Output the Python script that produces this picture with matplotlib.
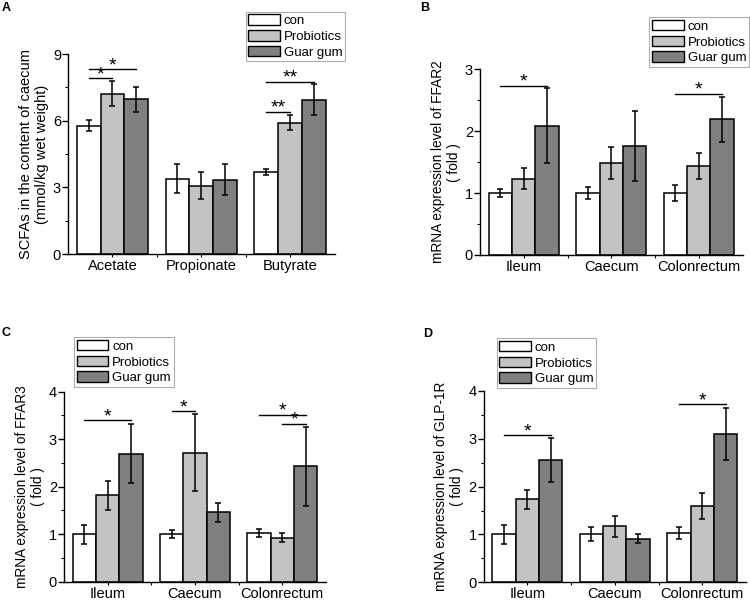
import numpy as np
import matplotlib
matplotlib.use("Agg")
import matplotlib.pyplot as plt
from matplotlib.patches import Patch
from matplotlib.ticker import MultipleLocator

plt.rcParams.update({
    "font.family": ["Liberation Sans", "DejaVu Sans"],
    "font.size": 10,
})

series_names = ["con", "Probiotics", "Guar gum"]
series_colors = ["#FFFFFF", "#C3C3C3", "#808080"]

# panel A
cats_a = ["Acetate", "Propionate", "Butyrate"]
con_a = [5.77, 3.39, 3.70]
con_a_err = [0.25, 0.66, 0.13]
pro_a = [7.22, 3.08, 5.91]
pro_a_err = [0.58, 0.62, 0.35]
gg_a = [6.96, 3.35, 6.95]
gg_a_err = [0.57, 0.68, 0.70]

# panel B
tissues = ["Ileum", "Caecum", "Colonrectum"]
con_b = [1.00, 1.00, 1.00]
con_b_err = [0.07, 0.10, 0.13]
pro_b = [1.23, 1.48, 1.43]
pro_b_err = [0.17, 0.26, 0.21]
gg_b = [2.09, 1.76, 2.19]
gg_b_err = [0.60, 0.57, 0.36]

# panel C
con_c = [1.00, 1.00, 1.03]
con_c_err = [0.20, 0.09, 0.08]
pro_c = [1.82, 2.72, 0.93]
pro_c_err = [0.31, 0.81, 0.10]
gg_c = [2.69, 1.46, 2.43]
gg_c_err = [0.62, 0.20, 0.83]

# panel D
con_d = [1.00, 1.01, 1.03]
con_d_err = [0.19, 0.15, 0.13]
pro_d = [1.74, 1.17, 1.60]
pro_d_err = [0.20, 0.22, 0.27]
gg_d = [2.56, 0.91, 3.10]
gg_d_err = [0.46, 0.09, 0.55]

# significance brackets: (group, bar_from, bar_to, y, label)
sig_a = [(0, 0, 1, 7.90, "*"), (0, 0, 2, 8.32, "*"),
         (2, 0, 1, 6.40, "**"), (2, 0, 2, 7.74, "**")]
sig_b = [(0, 0, 2, 2.73, "*"), (2, 0, 2, 2.60, "*")]
sig_c = [(0, 0, 2, 3.40, "*"), (1, 0, 1, 3.59, "*"),
         (2, 0, 2, 3.52, "*"), (2, 1, 2, 3.32, "*")]
sig_d = [(0, 0, 2, 3.07, "*"), (2, 0, 2, 3.72, "*")]

W, H = 750, 604
fig = plt.figure(figsize=(W / 100, H / 100), dpi=100)
fig.patch.set_facecolor("white")

BW = 0.268


def px_axes(left, top, right, bottom):
    return fig.add_axes([left / W, 1 - bottom / H, (right - left) / W, (bottom - top) / H])


def draw_panel(ax, cats, vals, errs, sigs, ymax, ymajor, yminor, ylabel, ylabel_size):
    x = np.arange(len(cats))
    for k, (v, e) in enumerate(zip(vals, errs)):
        ax.bar(x + (k - 1) * BW, v, BW, color=series_colors[k], edgecolor="black",
               linewidth=1.1, zorder=2)
        ax.errorbar(x + (k - 1) * BW, v, yerr=e, fmt="none", ecolor="black",
                    elinewidth=1.1, capsize=2.3, capthick=1.1, zorder=3)
    for g, b0, b1, y, lab in sigs:
        x0 = g + (b0 - 1) * BW
        x1 = g + (b1 - 1) * BW
        ax.plot([x0, x1], [y, y], color="black", lw=1.0, zorder=3)
        ax.annotate(lab, ((x0 + x1) / 2, y), xytext=(0, -3.5), textcoords="offset points",
                    ha="center", va="bottom", fontsize=14)
    ax.set_xlim(-0.5, len(cats) - 0.5)
    ax.set_ylim(0, ymax)
    ax.set_xticks(x)
    ax.set_xticklabels(cats, fontsize=10.5)
    ax.set_xticks(np.arange(len(cats) - 1) + 0.5, minor=True)
    ax.yaxis.set_major_locator(MultipleLocator(ymajor))
    ax.yaxis.set_minor_locator(MultipleLocator(yminor))
    ax.tick_params(axis="y", which="major", direction="out", length=4, width=1, labelsize=10.5, pad=1)
    ax.tick_params(axis="y", which="minor", direction="out", length=2, width=0.8)
    ax.tick_params(axis="x", which="major", direction="out", length=2.5, width=0.8, pad=1)
    ax.tick_params(axis="x", which="minor", direction="out", length=2.5, width=0.8)
    for s in ["top", "right"]:
        ax.spines[s].set_visible(False)
    for s in ["left", "bottom"]:
        ax.spines[s].set_linewidth(1.0)
    ax.set_ylabel(ylabel, fontsize=ylabel_size, linespacing=1.15, labelpad=3)
    ax.patch.set_alpha(0)


def add_legend(x, y):
    handles = [Patch(facecolor=c, edgecolor="black", linewidth=1.0) for c in series_colors]
    leg = fig.legend(handles, series_names, loc="upper left",
                     bbox_to_anchor=(x / W, 1 - y / H), bbox_transform=fig.transFigure,
                     fontsize=9.5, frameon=True, fancybox=False, handlelength=2.4,
                     handleheight=0.85, labelspacing=0.22, borderpad=0.2,
                     handletextpad=0.3, borderaxespad=0)
    leg.get_frame().set_edgecolor("#999999")
    leg.get_frame().set_linewidth(0.8)


ax_a = px_axes(68, 54, 334.5, 254)
draw_panel(ax_a, cats_a, [con_a, pro_a, gg_a], [con_a_err, pro_a_err, gg_a_err], sig_a,
           9, 3, 1.5, "SCFAs in the content of caecum\n(mmol/kg wet weight)", 10.5)
ax_b = px_axes(480, 69.3, 742.5, 255)
draw_panel(ax_b, tissues, [con_b, pro_b, gg_b], [con_b_err, pro_b_err, gg_b_err], sig_b,
           3, 1, 0.5, "mRNA expression level of FFAR2\n( fold )", 9.8)
ax_c = px_axes(64, 391.7, 326, 581.7)
draw_panel(ax_c, tissues, [con_c, pro_c, gg_c], [con_c_err, pro_c_err, gg_c_err], sig_c,
           4, 1, 0.5, "mRNA expression level of FFAR3\n( fold )", 9.8)
ax_d = px_axes(483.5, 391, 746, 582.3)
draw_panel(ax_d, tissues, [con_d, pro_d, gg_d], [con_d_err, pro_d_err, gg_d_err], sig_d,
           4, 1, 0.5, "mRNA expression level of GLP-1R\n( fold )", 9.8)

add_legend(245.7, 11.7)
add_legend(649.3, 17.3)
add_legend(74, 337.3)
add_legend(496.7, 338.3)

for lab, (x, y) in zip("ABCD", [(2, 2), (420, 2), (2, 327), (423, 328)]):
    fig.text(x / W, 1 - y / H, lab, fontsize=9, fontweight="bold", ha="left", va="top")

fig.savefig("out.png", dpi=100, facecolor="white")
